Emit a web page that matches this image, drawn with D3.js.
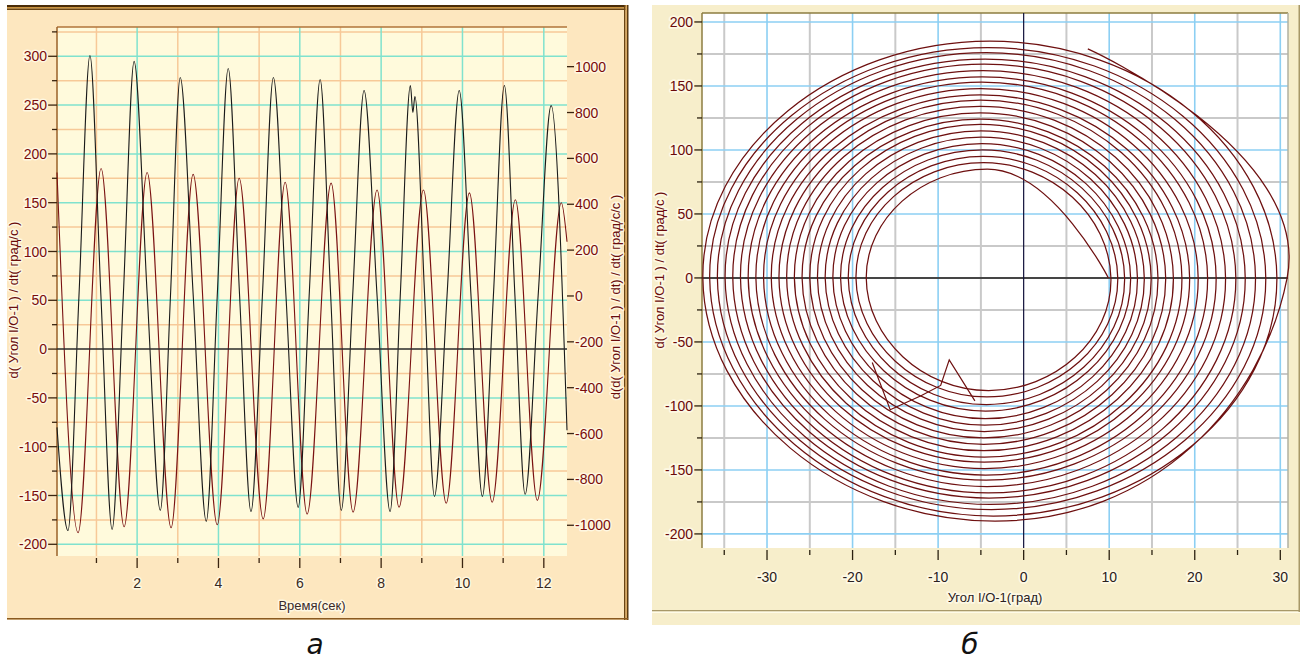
<!DOCTYPE html>
<html><head><meta charset="utf-8">
<script src="https://cdn.jsdelivr.net/npm/d3@7"></script>
<style>
body{margin:0;background:#fff}
svg{display:block}
text{font-family:"Liberation Sans Narrow","Liberation Sans",Arial,sans-serif}
</style>
</head><body>
<svg id="c" width="1306" height="661"></svg>
<script>
// ---------- DATA: panel a (time series) ----------
const timeTicks = [2, 4, 6, 8, 10, 12];
const timeMinorTicks = [1, 3, 5, 7, 9, 11];
const velTicks = [-200, -150, -100, -50, 0, 50, 100, 150, 200, 250, 300];
const velMinorTicks = [-175, -125, -75, -25, 25, 75, 125, 175, 225, 275, 325];
const accTicks = [-1000, -800, -600, -400, -200, 0, 200, 400, 600, 800, 1000];

// velocity d(angle)/dt, deg/s (left axis) - extrema
const velTime = [0.03, 0.549, 1.114, 1.68, 2.246, 2.835, 3.377, 3.97, 4.509, 5.10, 5.64, 6.18, 6.77, 7.31, 7.90, 8.44, 9.04, 9.60, 10.17, 10.73, 11.30, 11.84, 12.43, 12.57];
const velValue = [181, -188, 185, -182, 181, -183, 179, -180, 175, -174, 171, -169, 170, -167, 163, -162, 163, -158, 160, -157, 153, -155, 150, 110];

// acceleration, deg/s/s (right axis) - extrema and crossings
const accTime = [0.03, 0.30, 0.57, 0.84, 1.11, 1.385, 1.66, 1.926, 2.25, 2.57, 2.82, 3.06, 3.38, 3.70, 3.97, 4.24, 4.52, 4.80, 5.08, 5.35, 5.66, 5.96, 6.23, 6.50, 6.76, 7.02, 7.30, 7.58, 7.90, 8.22, 8.47, 8.72, 8.78, 8.83, 9.07, 9.31, 9.62, 9.92, 10.21, 10.49, 10.76, 11.03, 11.29, 11.54, 11.86, 12.18, 12.57];
const accValue = [-573, -1023, 0, 1049, 0, -1018, 0, 1023, 0, -935, 0, 953, 0, -983, 0, 992, 0, -940, 0, 953, 0, -922, 0, 944, 0, -935, 0, 896, 0, -940, 0, 918, 800, 870, 0, -874, 0, 896, 0, -874, 0, 918, 0, -865, 0, 830, -586];

// ---------- DATA: panel б (phase portrait) ----------
const angleTicks = [-30, -20, -10, 0, 10, 20, 30];
const angleMinorTicks = [-35, -25, -15, -5, 5, 15, 25];
const rateTicks = [-200, -150, -100, -50, 0, 50, 100, 150, 200];
const rateMinorTicks = [-175, -125, -75, -25, 25, 75, 125, 175];
// spiral, outer loop to inner loop: crossing points
const loopRight  = [30.8, 29.6, 28.3, 27.1, 25.9, 24.8, 23.6, 22.5, 21.5, 20.4, 19.4, 18.5, 17.5, 16.6, 15.7, 14.9, 14.1, 13.3, 12.5, 11.8, 11.0, 10.2];
const loopLeft   = [-37.5, -36.7, -35.8, -34.9, -34.0, -33.1, -32.2, -31.3, -30.4, -29.5, -28.6, -27.7, -26.8, -25.9, -25.0, -24.1, -23.2, -22.3, -21.4, -20.5, -19.6, -18.4];
const loopTop    = [185, 180, 176, 171, 167, 162, 157, 153, 148, 143, 139, 134, 129, 124, 120, 115, 110, 105, 100, 95, 90, 85];
const loopBottom = [-190, -186, -181, -177, -172, -168, -163, -158, -154, -149, -144, -140, -135, -130, -125, -120, -115, -110, -104, -99, -93, -88];
const spiralStart = [7.5, 179];
const spiralEnd = [9.9, 0];
const glitchAngle = [-17.7, -15.6, -12.0, -9.7, -8.7, -5.7];
const glitchRate  = [-66, -103, -92, -84, -64, -96];

const svg = d3.select('#c');
svg.append('rect').attr('width', 1306).attr('height', 661).attr('fill', '#fff');

function halo(sel, w) {
  return sel.attr('stroke', '#fffbe8').attr('stroke-width', w || 3).attr('stroke-linejoin', 'round')
    .attr('paint-order', 'stroke').attr('stroke-opacity', 0.85);
}

// ================= PANEL a =================
const A = {x0: 57, x1: 567, y0: 27, y1: 556};
const ga = svg.append('g');
ga.append('rect').attr('x', 7).attr('y', 5).attr('width', 621).attr('height', 615).attr('fill', '#FDE7BF');
ga.append('rect').attr('x', 7).attr('y', 5).attr('width', 621).attr('height', 2).attr('fill', '#4a2c08');
ga.append('rect').attr('x', 7).attr('y', 7).attr('width', 621).attr('height', 1.5).attr('fill', '#c9923e');
ga.append('rect').attr('x', 7).attr('y', 8.5).attr('width', 621).attr('height', 1.5).attr('fill', '#6a4412');
ga.append('rect').attr('x', 624).attr('y', 5).attr('width', 1.5).attr('height', 615).attr('fill', '#6a4412');
ga.append('rect').attr('x', 625.5).attr('y', 5).attr('width', 1.5).attr('height', 615).attr('fill', '#d9a860');
ga.append('rect').attr('x', 627).attr('y', 5).attr('width', 1.5).attr('height', 615).attr('fill', '#5a3a10');
ga.append('rect').attr('x', 7).attr('y', 618).attr('width', 621).attr('height', 1.5).attr('fill', '#8a5a20');

const xT = d3.scaleLinear().domain([0.03, 12.57]).range([A.x0, A.x1]);
const yV = d3.scaleLinear().domain([-212, 330]).range([A.y1, A.y0]);
const yAcc = d3.scaleLinear().domain([-1134, 1173]).range([A.y1, A.y0]);

ga.append('rect').attr('x', A.x0).attr('y', A.y0).attr('width', A.x1 - A.x0).attr('height', A.y1 - A.y0).attr('fill', '#FFFADC');

const gridA = ga.append('g');
gridA.selectAll('.vo').data(timeMinorTicks).join('line')
  .attr('x1', d => xT(d)).attr('x2', d => xT(d)).attr('y1', A.y0).attr('y2', A.y1)
  .attr('stroke', '#F7C998').attr('stroke-width', 1.5);
gridA.selectAll('.ho').data(velMinorTicks.filter(d => d < 330)).join('line')
  .attr('x1', A.x0).attr('x2', A.x1).attr('y1', d => yV(d)).attr('y2', d => yV(d))
  .attr('stroke', '#F7C998').attr('stroke-width', 1.5);
gridA.selectAll('.vt').data(timeTicks).join('line')
  .attr('x1', d => xT(d)).attr('x2', d => xT(d)).attr('y1', A.y0).attr('y2', A.y1)
  .attr('stroke', '#80E2CE').attr('stroke-width', 1.5);
gridA.selectAll('.ht').data(velTicks.filter(d => d !== 0)).join('line')
  .attr('x1', A.x0).attr('x2', A.x1).attr('y1', d => yV(d)).attr('y2', d => yV(d))
  .attr('stroke', '#80E2CE').attr('stroke-width', 1.5);
ga.append('line').attr('x1', A.x0).attr('x2', A.x1).attr('y1', A.y0).attr('y2', A.y0).attr('stroke', '#B0743A').attr('stroke-width', 1.5);
ga.append('line').attr('x1', A.x0).attr('x2', A.x0).attr('y1', A.y0).attr('y2', A.y1).attr('stroke', '#9a6028').attr('stroke-width', 1.5);

const velLine = d3.line().x((d, i) => xT(velTime[i])).y(d => yV(d)).curve(d3.curveMonotoneX);
const accLine = d3.line().x((d, i) => xT(accTime[i])).y(d => yAcc(d)).curve(d3.curveMonotoneX);
ga.append('path').attr('d', velLine(velValue)).attr('fill', 'none').attr('stroke', '#7a1212').attr('stroke-width', 1.1);
ga.append('path').attr('d', accLine(accValue)).attr('fill', 'none').attr('stroke', '#1a1a1a').attr('stroke-width', 1.1);
ga.append('line').attr('x1', A.x0).attr('x2', A.x1).attr('y1', yV(0)).attr('y2', yV(0)).attr('stroke', '#2a2a2a').attr('stroke-width', 1.5);

const tickCol = '#3a2410', labCol = '#7a0c0c';
ga.selectAll('.lt').data(velTicks).join('line').attr('x1', A.x0 - 9).attr('x2', A.x0).attr('y1', d => yV(d)).attr('y2', d => yV(d)).attr('stroke', tickCol).attr('stroke-width', 1.3);
ga.selectAll('.lmt').data(velMinorTicks).join('line').attr('x1', A.x0 - 5).attr('x2', A.x0).attr('y1', d => yV(d)).attr('y2', d => yV(d)).attr('stroke', tickCol).attr('stroke-width', 1.3);
halo(ga.selectAll('.ll').data(velTicks).join('text').attr('x', A.x0 - 10).attr('y', d => yV(d)).attr('dy', '0.36em')
  .attr('text-anchor', 'end').attr('font-size', 14).attr('fill', labCol).text(d => d));
ga.selectAll('.rt').data(accTicks).join('line').attr('x1', A.x1).attr('x2', A.x1 + 7).attr('y1', d => yAcc(d)).attr('y2', d => yAcc(d)).attr('stroke', tickCol).attr('stroke-width', 1.3);
halo(ga.selectAll('.rl').data(accTicks).join('text').attr('x', A.x1 + 8).attr('y', d => yAcc(d)).attr('dy', '0.36em')
  .attr('text-anchor', 'start').attr('font-size', 14).attr('fill', labCol).text(d => d));
const allTime = d3.range(1, 13);
ga.selectAll('.bt').data(allTime).join('line').attr('x1', d => xT(d)).attr('x2', d => xT(d))
  .attr('y1', A.y1 + 2).attr('y2', d => A.y1 + (d % 2 === 0 ? 12 : 7)).attr('stroke', tickCol).attr('stroke-width', 1.3);
halo(ga.selectAll('.bl').data(timeTicks).join('text').attr('x', d => xT(d)).attr('y', 588)
  .attr('text-anchor', 'middle').attr('font-size', 14).attr('fill', '#3a2a20').text(d => d));
halo(ga.append('text').attr('x', 312).attr('y', 610).attr('text-anchor', 'middle').attr('font-size', 13).attr('fill', '#3a2a2a').text('Время(сек)'));
halo(ga.append('text').attr('transform', 'translate(18,300) rotate(-90)').attr('text-anchor', 'middle').attr('font-size', 13).attr('fill', '#6a0c0c').text('d( Угол I/O-1 ) / dt( град/с )'));
halo(ga.append('text').attr('transform', 'translate(620,297) rotate(-90)').attr('text-anchor', 'middle').attr('font-size', 13).attr('fill', '#6a0c0c').text('d(d( Угол I/O-1 ) / dt) / dt( град/с/с )'));

// ================= PANEL б =================
const B = {x0: 702, x1: 1288, y0: 13, y1: 548};
const gb = svg.append('g');
gb.append('rect').attr('x', 652).attr('y', 5).attr('width', 648).attr('height', 620).attr('fill', '#F7EECB');
gb.append('rect').attr('x', 652).attr('y', 610).attr('width', 648).attr('height', 1.5).attr('fill', '#a89868');
gb.append('rect').attr('x', 652).attr('y', 611.5).attr('width', 648).attr('height', 1.5).attr('fill', '#fffbe8');
gb.append('rect').attr('x', 1298.5).attr('y', 5).attr('width', 1.5).attr('height', 607).attr('fill', '#a89868');

const xA = d3.scaleLinear().domain([-37.6, 30.9]).range([B.x0, B.x1]);
const yP = d3.scaleLinear().domain([-211, 207]).range([B.y1, B.y0]);

gb.append('rect').attr('x', B.x0).attr('y', B.y0).attr('width', B.x1 - B.x0).attr('height', B.y1 - B.y0).attr('fill', '#fff');
gb.selectAll('.gvm').data(angleMinorTicks).join('line').attr('x1', d => xA(d)).attr('x2', d => xA(d)).attr('y1', B.y0).attr('y2', B.y1).attr('stroke', '#c9c9c9').attr('stroke-width', 2);
gb.selectAll('.ghm').data(rateMinorTicks).join('line').attr('y1', d => yP(d)).attr('y2', d => yP(d)).attr('x1', B.x0).attr('x2', B.x1).attr('stroke', '#c9c9c9').attr('stroke-width', 2);
gb.selectAll('.gv').data(angleTicks.filter(d => d !== 0)).join('line').attr('x1', d => xA(d)).attr('x2', d => xA(d)).attr('y1', B.y0).attr('y2', B.y1).attr('stroke', '#8ccff3').attr('stroke-width', 1.6);
gb.selectAll('.gh').data(rateTicks.filter(d => d !== 0)).join('line').attr('y1', d => yP(d)).attr('y2', d => yP(d)).attr('x1', B.x0).attr('x2', B.x1).attr('stroke', '#8ccff3').attr('stroke-width', 1.6);
gb.append('line').attr('x1', B.x0).attr('x2', B.x1).attr('y1', B.y0).attr('y2', B.y0).attr('stroke', '#8c7c40').attr('stroke-width', 1.5);
gb.append('line').attr('x1', B.x0).attr('x2', B.x0).attr('y1', B.y0).attr('y2', B.y1).attr('stroke', '#8c7c40').attr('stroke-width', 1.5);
gb.append('line').attr('x1', B.x1).attr('x2', B.x1).attr('y1', B.y0).attr('y2', B.y1).attr('stroke', '#b0b0a0').attr('stroke-width', 1.5);
gb.append('line').attr('x1', B.x0).attr('x2', B.x1).attr('y1', yP(0)).attr('y2', yP(0)).attr('stroke', '#454545').attr('stroke-width', 2);
gb.append('line').attr('x1', xA(0)).attr('x2', xA(0)).attr('y1', B.y0).attr('y2', B.y1).attr('stroke', '#10103a').attr('stroke-width', 1.2);

// spiral
const spiralPts = [spiralStart];
loopRight.forEach((r, i) => {
  const l = loopLeft[i];
  const nextR = i + 1 < loopRight.length ? loopRight[i + 1] : spiralEnd[0];
  spiralPts.push([r, 0]);
  spiralPts.push([(r + l) / 2, loopBottom[i]]);
  spiralPts.push([l, 0]);
  spiralPts.push([(l + nextR) / 2, loopTop[i]]);
});
spiralPts.push(spiralEnd);
const spiralLine = d3.line().x(d => xA(d[0])).y(d => yP(d[1])).curve(d3.curveCardinal.tension(-0.62));
gb.append('path').attr('d', spiralLine(spiralPts)).attr('fill', 'none').attr('stroke', '#6e1010').attr('stroke-width', 1.25);
const glitchLine = d3.line().x((d, i) => xA(glitchAngle[i])).y(d => yP(d));
gb.append('path').attr('d', glitchLine(glitchRate)).attr('fill', 'none').attr('stroke', '#6e1010').attr('stroke-width', 1.2);

const tickColB = '#2a2010', labColB = '#6a0a0a';
const rateAll = rateTicks.concat(rateMinorTicks);
gb.selectAll('.yt').data(rateAll).join('line').attr('x1', d => B.x0 - (d % 50 === 0 ? 8 : 5)).attr('x2', B.x0).attr('y1', d => yP(d)).attr('y2', d => yP(d)).attr('stroke', tickColB).attr('stroke-width', 1.3);
halo(gb.selectAll('.yl').data(rateTicks).join('text').attr('x', B.x0 - 9).attr('y', d => yP(d)).attr('dy', '0.36em')
  .attr('text-anchor', 'end').attr('font-size', 14).attr('fill', labColB).text(d => d), 3.5);
const angAll = angleTicks.concat(angleMinorTicks);
gb.selectAll('.xt').data(angAll).join('line').attr('x1', d => xA(d)).attr('x2', d => xA(d)).attr('y1', B.y1 + 2).attr('y2', d => B.y1 + (d % 10 === 0 ? 12 : 7)).attr('stroke', tickColB).attr('stroke-width', 1.3);
halo(gb.selectAll('.xl').data(angleTicks).join('text').attr('x', d => xA(d)).attr('y', 582)
  .attr('text-anchor', 'middle').attr('font-size', 14).attr('fill', '#2a2020').text(d => d), 3.5);
halo(gb.append('text').attr('x', 995).attr('y', 602).attr('text-anchor', 'middle').attr('font-size', 13).attr('fill', '#2a2020').text('Угол I/O-1(град)'), 3.5);
halo(gb.append('text').attr('transform', 'translate(664,270) rotate(-90)').attr('text-anchor', 'middle').attr('font-size', 13).attr('fill', '#6a0a0a').text('d( Угол I/O-1 ) / dt( град/с )'), 3.5);

// panel letters
svg.append('text').attr('x', 315).attr('y', 654).attr('text-anchor', 'middle').attr('font-size', 28).attr('font-style', 'italic').style('font-family', '"DejaVu Sans", sans-serif').attr('fill', '#111').text('а');
svg.append('text').attr('x', 970).attr('y', 654).attr('text-anchor', 'middle').attr('font-size', 28).attr('font-style', 'italic').style('font-family', '"DejaVu Sans", sans-serif').attr('fill', '#111').text('б');
</script>
</body></html>
